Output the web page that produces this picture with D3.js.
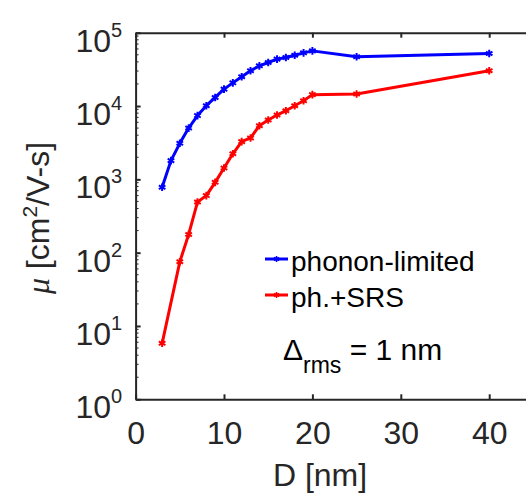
<!DOCTYPE html>
<html>
<head>
<meta charset="utf-8">
<script src="https://cdn.jsdelivr.net/npm/d3@7"></script>
<style>
  body { margin: 0; background: #fff; }
  svg { display: block; }
  text { font-family: "Liberation Sans", Arial, Helvetica, sans-serif; fill: #262626; }
</style>
</head>
<body>
<svg id="chart" width="526" height="495"></svg>
<script>
// ---- data ----
const diamPhonon = [3, 4, 5, 6, 7, 8, 9, 10, 11, 12, 13, 14, 15, 16, 17, 18, 19, 20, 25, 40];
const muPhonon   = [780, 1800, 3100, 5000, 7400, 10100, 13100, 17000, 20700, 25100, 30300, 35300, 39200, 43600, 45800, 49300, 53100, 56500, 46900, 52000];
const diamSRS    = [3, 5, 6, 7, 8, 9, 10, 11, 12, 13, 14, 15, 16, 17, 18, 19, 20, 25, 40];
const muSRS      = [5.8, 75, 177, 490, 600, 910, 1430, 2230, 3270, 3670, 5390, 6440, 7530, 8630, 10100, 11800, 14300, 14600, 30200];
const xTicks = [0, 10, 20, 30, 40];
const yTickExps = [0, 1, 2, 3, 4, 5];
const seriesNames = ["phonon-limited", "ph.+SRS"];
const seriesColors = ["#0000ff", "#ff0000"];

// ---- layout ----
const svg = d3.select("#chart");
const L = 135.6, R = 533.4, T = 32.7, B = 399.3;
const x = d3.scaleLinear().domain([0, 45]).range([L, R]);
const y = d3.scaleLog().domain([1, 1e5]).range([B, T]);
const axisColor = "#262626";

// minor ticks (log)
const minor = [];
for (let e = 0; e < 5; e++) for (let k = 2; k <= 9; k++) minor.push(k * Math.pow(10, e));
svg.append("g").selectAll("line").data(minor).join("line")
  .attr("x1", L).attr("x2", L + 3)
  .attr("y1", d => y(d)).attr("y2", d => y(d))
  .attr("stroke", axisColor).attr("stroke-width", 1);

// x axis bottom
const gx = svg.append("g").attr("transform", `translate(0,${B})`)
  .call(d3.axisBottom(x).tickValues(xTicks).tickSizeInner(-5).tickSizeOuter(0).tickPadding(22));
gx.select(".domain").attr("stroke", axisColor).attr("stroke-width", 2);
gx.selectAll(".tick line").attr("stroke", axisColor).attr("stroke-width", 2);
gx.selectAll(".tick text").style("font-size", "32px").attr("fill", axisColor)
  .style("font-family", '"Liberation Sans", Arial, sans-serif');

// x axis top (ticks only)
const gxt = svg.append("g").attr("transform", `translate(0,${T})`)
  .call(d3.axisTop(x).tickValues(xTicks).tickSizeInner(-5).tickSizeOuter(0).tickFormat(""));
gxt.select(".domain").attr("stroke", axisColor).attr("stroke-width", 2);
gxt.selectAll(".tick line").attr("stroke", axisColor).attr("stroke-width", 2);

// y axis left
const gy = svg.append("g").attr("transform", `translate(${L},0)`)
  .call(d3.axisLeft(y).tickValues(yTickExps.map(e => Math.pow(10, e))).tickSizeInner(-5).tickSizeOuter(0).tickFormat(""));
gy.select(".domain").attr("stroke", axisColor).attr("stroke-width", 2);
gy.selectAll(".tick line").attr("stroke", axisColor).attr("stroke-width", 2);

// y tick labels with superscripts
const yl = svg.append("g").selectAll("g").data(yTickExps).join("g")
  .attr("transform", e => `translate(111,${y(Math.pow(10, e))})`);
yl.append("text").attr("text-anchor", "end").attr("y", 19).style("font-size", "32px").text("10");
yl.append("text").attr("x", 0).attr("y", 4).style("font-size", "20px").text(e => e);

// axis labels
svg.append("text").attr("x", 320).attr("y", 486).attr("text-anchor", "middle")
  .style("font-size", "32px").text("D [nm]");
const ylab = svg.append("text").attr("transform", "translate(49,218) rotate(-90)")
  .attr("text-anchor", "middle").style("font-size", "32px");
ylab.append("tspan").style("font-family", '"Liberation Serif", "DejaVu Serif", serif').style("font-style", "italic").text("μ");
ylab.append("tspan").text(" [cm");
ylab.append("tspan").attr("dy", -12).style("font-size", "21px").text("2");
ylab.append("tspan").attr("dy", 12).text("/V-s]");

// lines
const line = d3.line().x(d => x(d[0])).y(d => y(d[1]));
const series = [d3.zip(diamPhonon, muPhonon), d3.zip(diamSRS, muSRS)];
const star = d3.symbol().type(d3.symbolAsterisk).size(40);
series.forEach((s, i) => {
  svg.append("path").datum(s).attr("d", line).attr("fill", "none")
    .attr("stroke", seriesColors[i]).attr("stroke-width", 3).attr("stroke-linejoin", "round");
  svg.append("g").selectAll("path").data(s).join("path")
    .attr("transform", d => `translate(${x(d[0])},${y(d[1])})`)
    .attr("d", star).attr("fill", "none").attr("stroke", seriesColors[i]).attr("stroke-width", 2);
});

// legend
const lg = svg.append("g").selectAll("g").data(seriesNames).join("g")
  .attr("transform", (d, i) => `translate(0,${259 + i * 36})`);
lg.append("line").attr("x1", 265).attr("x2", 288).attr("stroke", (d, i) => seriesColors[i]).attr("stroke-width", 3);
lg.append("path").attr("transform", "translate(276.5,0)").attr("d", d3.symbol().type(d3.symbolAsterisk).size(25))
  .attr("fill", "none").attr("stroke", (d, i) => seriesColors[i]).attr("stroke-width", 1.5);
lg.append("text").attr("x", 291).attr("y", 12).style("font-size", "28px").style("fill", "#000").text(d => d);

// annotation
const ann = svg.append("text").attr("x", 283).attr("y", 360).style("font-size", "30px").style("fill", "#000");
ann.append("tspan").text("Δ");
ann.append("tspan").attr("dy", 13).style("font-size", "23px").text("rms");
ann.append("tspan").attr("dy", -13).text(" = 1 nm");
</script>
</body>
</html>
